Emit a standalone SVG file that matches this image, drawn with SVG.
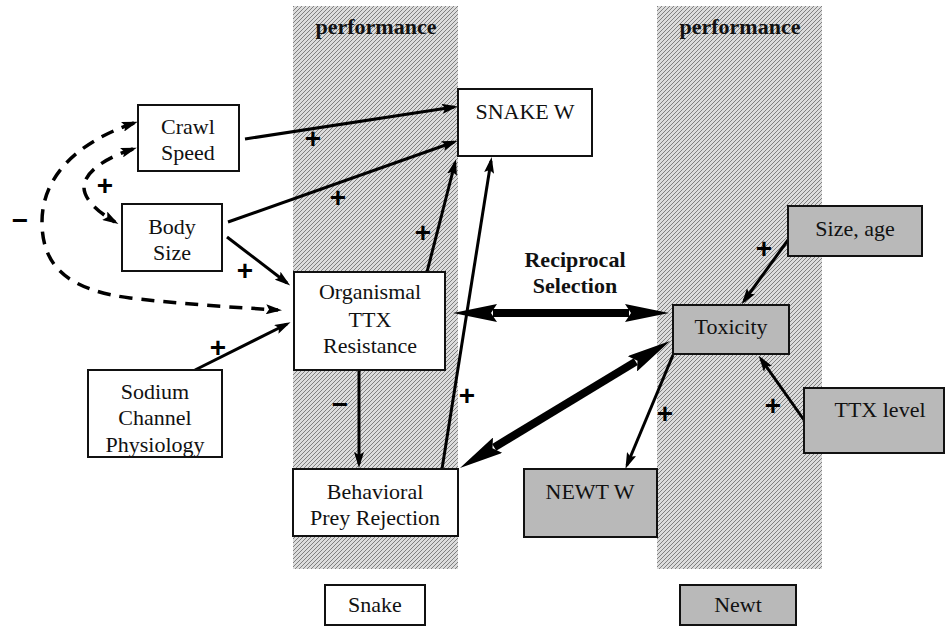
<svg xmlns="http://www.w3.org/2000/svg" width="945" height="638" viewBox="0 0 945 638">
<defs>
<pattern id="hatch" width="4" height="4" patternUnits="userSpaceOnUse">
<rect width="4" height="4" fill="#dcdcdc"/>
<path d="M-1,1 l2,-2 M0,4 l4,-4 M3,5 l2,-2" stroke="#808080" stroke-width="1"/>
</pattern>
<marker id="ah" viewBox="0 0 16 10" refX="12" refY="5" markerWidth="16" markerHeight="10" markerUnits="userSpaceOnUse" orient="auto-start-reverse">
<path d="M0,0 L16,5 L0,10 L3,5 z" fill="#000"/>
</marker>
<marker id="big" viewBox="0 0 44 18" refX="4" refY="9" markerWidth="44" markerHeight="18" markerUnits="userSpaceOnUse" orient="auto-start-reverse">
<path d="M0,0 L44,9 L0,18 L6,9 z" fill="#000"/>
</marker>
<style>
.col{fill:url(#hatch);}
.box{fill:#fff;stroke:#111;stroke-width:2;}
.gbox{fill:#b9b9b9;stroke:#111;stroke-width:2;}
.t{font-family:Liberation Serif, DejaVu Serif, serif;font-size:22px;fill:#111;text-anchor:middle;}
.b{font-family:Liberation Serif, DejaVu Serif, serif;font-size:22px;font-weight:bold;fill:#111;text-anchor:middle;}
.s{font-family:Liberation Sans, Arial, sans-serif;font-size:28px;font-weight:bold;fill:#000;text-anchor:middle;}
.a{fill:none;stroke:#000;stroke-width:3;marker-end:url(#ah);}
.d{fill:none;stroke:#000;stroke-width:3.5;stroke-dasharray:13 9;marker-start:url(#ah);marker-end:url(#ah);}
.w{fill:none;stroke:#000;stroke-width:8;marker-start:url(#big);marker-end:url(#big);}
</style>
</defs>
<rect width="945" height="638" fill="#fff"/>

<g id="columns">
<rect class="col" x="293" y="6" width="165" height="563"/>
<rect class="col" x="657" y="6" width="165" height="563"/>
<text class="b" x="376" y="34">performance</text>
<text class="b" x="740" y="34">performance</text>
</g>

<g id="reciprocal-label">
<text class="b" x="575" y="267">Reciprocal</text>
<text class="b" x="575" y="293">Selection</text>
</g>

<g id="connectors">
<path class="d" d="M134,123 C75,143 42,178 42,222 C42,268 70,290 130,298 C180,304 230,307 278,310"/>
<path class="d" d="M133,149 C105,158 85,172 84,186 C83,200 100,213 115,222"/>
<line class="a" x1="245" y1="139" x2="454" y2="107"/>
<line class="a" x1="228" y1="222" x2="454" y2="142"/>
<line class="a" x1="227" y1="237" x2="287" y2="283"/>
<line class="a" x1="195" y1="370" x2="287" y2="324"/>
<line class="a" x1="427" y1="272" x2="455" y2="163"/>
<line class="a" x1="442" y1="469" x2="491" y2="161"/>
<line class="a" x1="359" y1="371" x2="359" y2="464"/>
<line class="a" x1="673" y1="355" x2="627" y2="465"/>
<line class="a" x1="788" y1="240" x2="744" y2="301"/>
<line class="a" x1="804" y1="420" x2="761" y2="359"/>
<line class="w" x1="493" y1="313" x2="629" y2="313"/>
<line class="w" x1="494.2" y1="447.3" x2="635.8" y2="361.7"/>
</g>

<g id="signs">
<text class="s" x="20" y="230">−</text>
<text class="s" x="105" y="195">+</text>
<text class="s" x="313" y="148">+</text>
<text class="s" x="338" y="207">+</text>
<text class="s" x="245" y="280">+</text>
<text class="s" x="218" y="357">+</text>
<text class="s" x="423" y="242">+</text>
<text class="s" x="467" y="405">+</text>
<text class="s" x="340" y="414">−</text>
<text class="s" x="665" y="423">+</text>
<text class="s" x="764" y="258">+</text>
<text class="s" x="773" y="415">+</text>
</g>

<g id="crawl-speed">
<rect class="box" x="138" y="105" width="101" height="66"/>
<text class="t" x="188" y="134">Crawl</text>
<text class="t" x="188" y="160">Speed</text>
</g>

<g id="body-size">
<rect class="box" x="122" y="204" width="100" height="67"/>
<text class="t" x="172" y="234">Body</text>
<text class="t" x="172" y="260">Size</text>
</g>

<g id="sodium-channel">
<rect class="box" x="88" y="370" width="134" height="87"/>
<text class="t" x="155" y="399">Sodium</text>
<text class="t" x="155" y="425">Channel</text>
<text class="t" x="155" y="452">Physiology</text>
</g>

<g id="snake-w">
<rect class="box" x="458" y="89" width="134" height="67"/>
<text class="t" x="525" y="119">SNAKE W</text>
</g>

<g id="organismal-ttx">
<rect class="box" x="294" y="272" width="151" height="98"/>
<text class="t" x="370" y="299">Organismal</text>
<text class="t" x="370" y="327">TTX</text>
<text class="t" x="370" y="353">Resistance</text>
</g>

<g id="behavioral-prey-rejection">
<rect class="box" x="293" y="469" width="165" height="67"/>
<text class="t" x="375" y="499">Behavioral</text>
<text class="t" x="375" y="525">Prey Rejection</text>
</g>

<g id="newt-w">
<rect class="gbox" x="524" y="469" width="133" height="68"/>
<text class="t" x="590" y="499">NEWT W</text>
</g>

<g id="toxicity">
<rect class="gbox" x="673" y="305" width="116" height="49"/>
<text class="t" x="731" y="334">Toxicity</text>
</g>

<g id="size-age">
<rect class="gbox" x="788" y="206" width="134" height="50"/>
<text class="t" x="855" y="236">Size, age</text>
</g>

<g id="ttx-level">
<rect class="gbox" x="804" y="388" width="140" height="65"/>
<text class="t" x="880" y="417">TTX level</text>
</g>

<g id="snake-label">
<rect class="box" x="325" y="585" width="100" height="40"/>
<text class="t" x="375" y="612">Snake</text>
</g>

<g id="newt-label">
<rect class="gbox" x="680" y="585" width="116" height="40"/>
<text class="t" x="738" y="612">Newt</text>
</g>
</svg>
